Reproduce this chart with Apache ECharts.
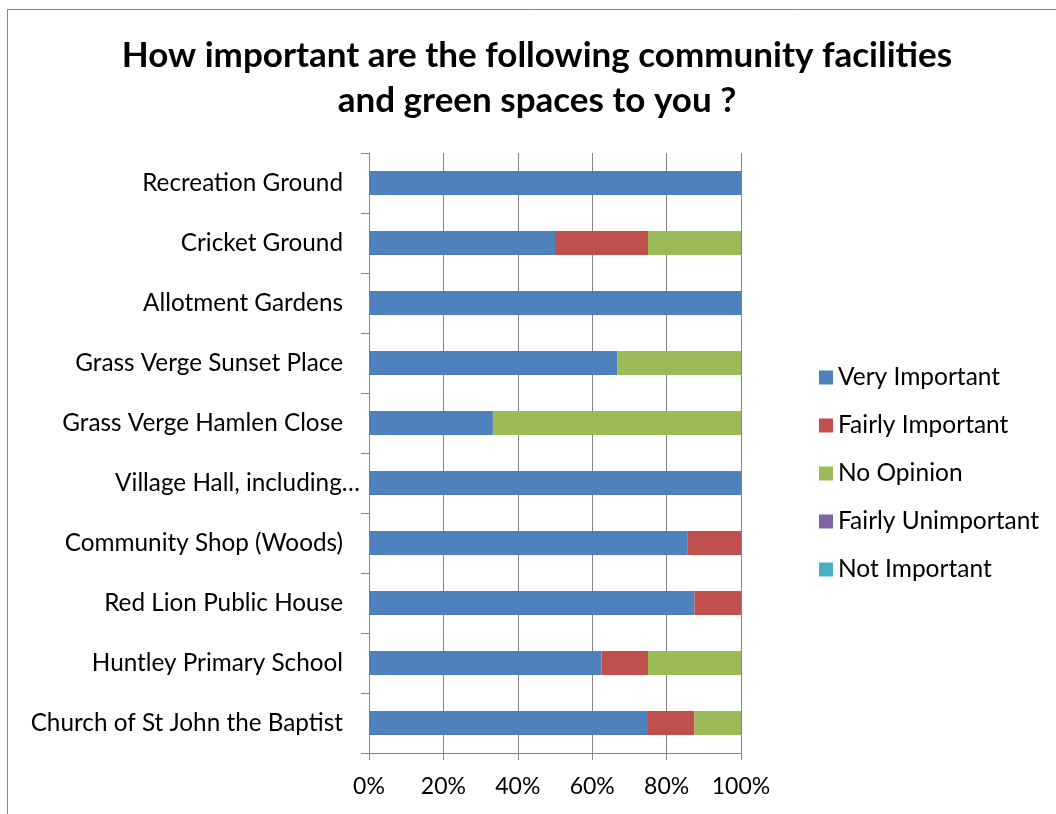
<!DOCTYPE html>
<html>
<head>
<meta charset="utf-8">
<script src="https://cdn.jsdelivr.net/npm/echarts@6/dist/echarts.min.js"></script>
<style>
  html, body { margin: 0; padding: 0; background: #fff; }
  #chart { width: 1056px; height: 814px; }
</style>
</head>
<body>
<div id="chart"></div>
<script>
// Facilities, listed top to bottom
const facilities = [
  'Recreation Ground',
  'Cricket Ground',
  'Allotment Gardens',
  'Grass Verge Sunset Place',
  'Grass Verge Hamlen Close',
  'Village Hall, including\u2026',
  'Community Shop (Woods)',
  'Red Lion Public House',
  'Huntley Primary School',
  'Church of St John the Baptist'
];

// Share of responses (%) per answer, same order as facilities
const veryImportant     = [100, 50, 100, 66.7, 33.3, 100, 85.7, 87.5, 62.5, 75];
const fairlyImportant   = [0, 25, 0, 0, 0, 0, 14.3, 12.5, 12.5, 12.5];
const noOpinion         = [0, 25, 0, 33.3, 66.7, 0, 0, 0, 25, 12.5];
const fairlyUnimportant = [0, 0, 0, 0, 0, 0, 0, 0, 0, 0];
const notImportant      = [0, 0, 0, 0, 0, 0, 0, 0, 0, 0];

const percentTicks = ['0%', '20%', '40%', '60%', '80%', '100%'];

const FONT = 'Lato';
const chart = echarts.init(document.getElementById('chart'), null, { renderer: 'canvas' });

function bar(name, data, color) {
  return {
    name: name,
    type: 'bar',
    stack: 'total',
    data: data,
    barCategoryGap: '60%',
    itemStyle: { color: color },
    emphasis: { disabled: true }
  };
}

chart.setOption({
  animation: false,
  backgroundColor: '#ffffff',
  textStyle: { fontFamily: FONT },
  title: {
    text: 'How important are the following community facilities\nand green spaces to you ?',
    left: 532,
    textAlign: 'center',
    top: 28,
    textStyle: { fontFamily: FONT, fontSize: 35, fontWeight: 'bold', color: '#000', lineHeight: 45 }
  },
  graphic: [{
    type: 'rect',
    shape: { x: 7.5, y: 9.5, width: 1100, height: 900 },
    style: { fill: 'none', stroke: '#868686', lineWidth: 1 },
    silent: true
  }],
  legend: {
    orient: 'vertical',
    left: 814,
    top: 360,
    itemWidth: 14,
    itemHeight: 14,
    itemGap: 23,
    icon: 'rect',
    textStyle: { fontFamily: FONT, fontSize: 24.5, color: '#000' },
    data: ['Very Important', 'Fairly Important', 'No Opinion', 'Fairly Unimportant', 'Not Important']
  },
  grid: { left: 369, right: 315, top: 153, bottom: 61, containLabel: false },
  xAxis: {
    type: 'value',
    min: 0,
    max: 100,
    interval: 20,
    axisLine: { show: true, lineStyle: { color: '#868686', width: 1 } },
    axisTick: { show: true, length: 7, lineStyle: { color: '#868686' } },
    splitLine: { show: true, lineStyle: { color: '#868686', width: 1 } },
    axisLabel: {
      margin: 22,
      fontFamily: FONT,
      fontSize: 23,
      color: '#000',
      formatter: function (v) { return percentTicks[Math.round(v / 20)]; }
    }
  },
  yAxis: {
    type: 'category',
    inverse: true,
    data: facilities.map(function (f) {
      return f.indexOf('\u2026') >= 0
        ? { value: f, textStyle: { padding: [0, -17, 0, 0] } }
        : f;
    }),
    axisLine: { show: true, lineStyle: { color: '#868686', width: 1 } },
    axisTick: { show: true, length: 8, alignWithLabel: false, lineStyle: { color: '#868686' } },
    splitLine: { show: false },
    axisLabel: { margin: 26, fontFamily: FONT, fontSize: 24.3, color: '#000' }
  },
  series: [
    bar('Very Important', veryImportant, '#4F81BD'),
    bar('Fairly Important', fairlyImportant, '#C0504D'),
    bar('No Opinion', noOpinion, '#9BBB59'),
    bar('Fairly Unimportant', fairlyUnimportant, '#8064A2'),
    bar('Not Important', notImportant, '#4BACC6')
  ]
});
</script>
</body>
</html>
